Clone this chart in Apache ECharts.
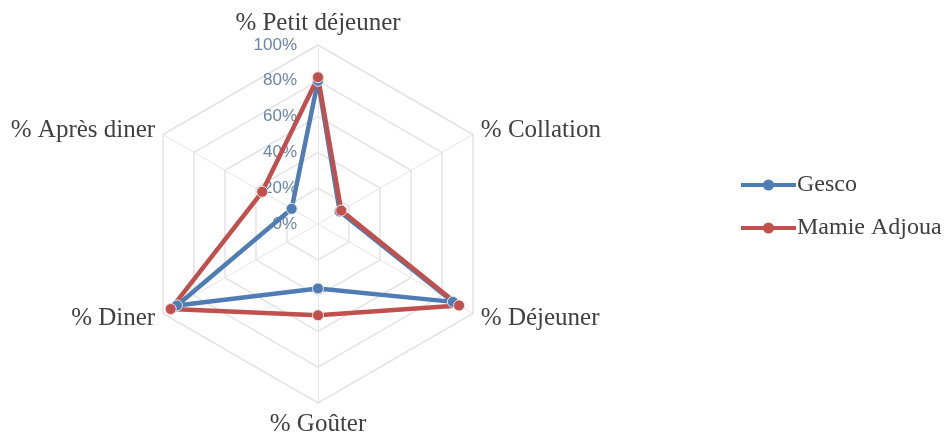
<!DOCTYPE html>
<html>
<head>
<meta charset="utf-8">
<script src="https://cdn.jsdelivr.net/npm/echarts@6/dist/echarts.min.js"></script>
<style>
html,body{margin:0;padding:0;background:#fff;}
#chart{width:947px;height:436px;}
</style>
</head>
<body>
<div id="chart"></div>
<script>
// Indicators in counter-clockwise order starting from the top
var categories = ['% Petit déjeuner', '% Après diner', '% Diner', '% Goûter', '% Déjeuner', '% Collation'];
var seriesNames = ['Gesco', 'Mamie Adjoua'];
var gescoValues = [80, 17, 91, 36, 87, 14];
var mamieValues = [82, 36, 95, 51, 91, 15];
var tickValues = [0, 20, 40, 60, 80, 100];

var blue = '#4f7cb3';
var red = '#c0504d';
var textFont = 'Liberation Serif';
var legendIcon = 'path://M0,4 L55,4 L55,8 L0,8 Z M33,6 A5.5,5.5 0 1,1 22,6 A5.5,5.5 0 1,1 33,6 Z';

var chart = echarts.init(document.getElementById('chart'));
chart.setOption({
  animation: false,
  backgroundColor: '#ffffff',
  legend: {
    orient: 'vertical',
    left: 736,
    top: 168,
    itemWidth: 55,
    itemHeight: 12,
    itemGap: 19,
    icon: legendIcon,
    itemStyle: { borderWidth: 0 },
    textStyle: { fontFamily: textFont, fontSize: 24, color: '#404040', padding: [0, 0, 0, -4] },
    data: seriesNames
  },
  grid: { left: 318, top: 45, width: 1, height: 179 },
  xAxis: { type: 'value', show: false },
  yAxis: {
    type: 'value',
    min: tickValues[0],
    max: tickValues[tickValues.length - 1],
    interval: 20,
    axisLine: { show: false },
    axisTick: { show: false },
    splitLine: { show: false },
    axisLabel: {
      margin: 21,
      formatter: '{value}%',
      color: '#6a84a8',
      fontFamily: 'Liberation Sans',
      fontSize: 17
    }
  },
  radar: {
    center: [318, 224],
    radius: 179,
    startAngle: 90,
    splitNumber: 5,
    shape: 'polygon',
    nameGap: 9,
    axisName: { color: '#404040', fontFamily: textFont, fontSize: 25 },
    axisLine: { lineStyle: { color: '#e6e6e6', width: 1 } },
    splitLine: { lineStyle: { color: '#e3e3e3', width: 1.5 } },
    splitArea: { show: false },
    indicator: categories.map(function (c) { return { name: c, min: 0, max: 100 }; })
  },
  series: [{
    type: 'radar',
    symbol: 'circle',
    symbolSize: 11,
    data: [
      {
        name: seriesNames[0],
        value: gescoValues,
        lineStyle: { color: blue, width: 4.5 },
        itemStyle: { color: blue, borderColor: '#dfe8f3', borderWidth: 1 }
      },
      {
        name: seriesNames[1],
        value: mamieValues,
        lineStyle: { color: red, width: 4.5 },
        itemStyle: { color: red, borderColor: '#f3dede', borderWidth: 1 }
      }
    ]
  }]
});
</script>
</body>
</html>
